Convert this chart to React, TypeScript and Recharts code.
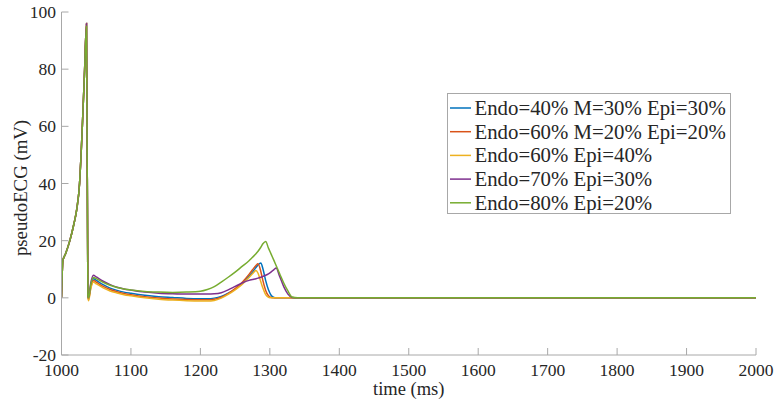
import React from "react";
import { LineChart, Line, XAxis, YAxis, Legend } from "recharts";

const time = [1000, 1002, 1006, 1012, 1018, 1022, 1026, 1028, 1030, 1033, 1036, 1038, 1039, 1042, 1046, 1050, 1060, 1070, 1080, 1090, 1100, 1120, 1140, 1160, 1180, 1200, 1210, 1220, 1230, 1240, 1250, 1260, 1270, 1275, 1280, 1283, 1287, 1290, 1294, 1298, 1302, 1306, 1309, 1314, 1320, 1326, 1332, 1340, 1400, 2000];

const endo40M30Epi30 = [0, 13, 15.5, 20, 26, 31, 40, 49, 60, 78, 96, 0.5, -0.3, 4, 6.7, 6.1, 4.6, 3.4, 2.6, 2.0, 1.6, 0.9, 0.4, 0.1, -0.2, -0.3, -0.3, -0.1, 0.5, 1.6, 3.0, 5.0, 7.6, 9.0, 10.6, 11.5, 12.2, 10.2, 6.0, 2.8, 0.8, 0.1, 0, 0, 0, 0, 0, 0, 0, 0];
const endo60M20Epi20 = [0, 13, 15.5, 20, 26, 31, 40, 49, 60, 78, 96, 0.5, -0.6, 3.5, 6.1, 5.5, 4.0, 2.9, 2.1, 1.5, 1.1, 0.4, -0.1, -0.4, -0.6, -0.7, -0.7, -0.5, 0.2, 1.5, 3.2, 5.4, 8.2, 9.8, 11.3, 11.9, 9.2, 6.0, 2.6, 0.7, 0.1, 0, 0, 0, 0, 0, 0, 0, 0, 0];
const endo60Epi40 = [0, 13, 15.5, 20, 26, 31, 40, 49, 60, 78, 96, 0.5, -1.0, 3, 5.5, 4.9, 3.5, 2.4, 1.7, 1.1, 0.7, 0.0, -0.5, -0.8, -1.0, -1.1, -1.1, -0.9, -0.1, 1.2, 2.8, 4.7, 7.1, 8.4, 9.6, 8.6, 5.6, 3.4, 1.1, 0.2, 0, 0, 0, 0, 0, 0, 0, 0, 0, 0];
const endo70Epi30 = [0, 13, 15.5, 20, 26, 31, 40, 49, 60, 78, 96, 0.5, 0, 5, 7.9, 7.3, 5.8, 4.6, 3.7, 3.1, 2.7, 2.0, 1.6, 1.4, 1.3, 1.3, 1.3, 1.4, 1.8, 2.8, 4.0, 5.2, 6.1, 6.4, 6.7, 6.9, 7.2, 7.5, 7.9, 8.4, 9.1, 9.9, 10.4, 7.6, 3.9, 1.3, 0.1, 0, 0, 0];
const endo80Epi20 = [0, 13, 15.5, 20, 26, 31, 40, 49, 60, 78, 95, 0.5, 0, 4.5, 7.1, 6.7, 5.4, 4.4, 3.6, 3.1, 2.7, 2.2, 2.0, 1.9, 2.0, 2.3, 2.9, 3.9, 5.5, 7.2, 9.0, 11.0, 13.0, 14.2, 15.4, 16.3, 17.7, 18.9, 19.7, 17.4, 15.2, 13.0, 11.3, 8.5, 5.2, 2.4, 0.3, 0, 0, 0];

const seriesNames = ["Endo=40% M=30% Epi=30%", "Endo=60% M=20% Epi=20%", "Endo=60% Epi=40%", "Endo=70% Epi=30%", "Endo=80% Epi=20%"];
const seriesColors = ["#0072BD", "#D95319", "#EDB120", "#7E2F8E", "#77AC30"];
const seriesValues = [endo40M30Epi30, endo60M20Epi20, endo60Epi40, endo70Epi30, endo80Epi20];

const xTicks = [1000, 1100, 1200, 1300, 1400, 1500, 1600, 1700, 1800, 1900, 2000];
const yTicks = [-20, 0, 20, 40, 60, 80, 100];

const data = time.map((t, i) => {
  const row: Record<string, number> = { t };
  seriesValues.forEach((vals, k) => {
    row["s" + k] = vals[i];
  });
  return row;
});

const W = 774;
const H = 400;
const PL = 61.5;
const PT = 12;
const PR = 756;
const PB = 355;
const AX = "#a8a8a8";
const TXT = "#262626";
const FONT = "Liberation Serif, Times New Roman, DejaVu Serif, serif";
const TL = 7;

const BottomTick = (props: any) => {
  const { x, payload } = props;
  return (
    <g>
      <line x1={x} x2={x} y1={PB} y2={PB - TL} stroke={AX} />
      <text x={x} y={376} textAnchor="middle" fontSize={17.5} fill={TXT} style={{ fontFamily: FONT }}>
        {payload.value}
      </text>
    </g>
  );
};
const TopTick = (props: any) => {
  const { x } = props;
  return <line x1={x} x2={x} y1={PT} y2={PT + TL} stroke={AX} />;
};
const LeftTick = (props: any) => {
  const { y, payload } = props;
  return (
    <g>
      <line x1={PL} x2={PL + TL} y1={y} y2={y} stroke={AX} />
      <text x={PL - 5.5} y={y + 6} textAnchor="end" fontSize={17.5} fill={TXT} style={{ fontFamily: FONT }}>
        {payload.value}
      </text>
    </g>
  );
};
const RightTick = (props: any) => {
  const { y } = props;
  return <line x1={PR} x2={PR - TL} y1={y} y2={y} stroke={AX} />;
};

const LegendBox = () => {
  const bw = 284;
  const bh = 121;
  return (
    <svg width={bw} height={bh} style={{ display: "block" }}>
      <rect x={0.5} y={0.5} width={bw - 1} height={bh - 1} fill="#ffffff" stroke={AX} />
      {seriesNames.map((name, i) => {
        const cy = 15 + i * 23.7;
        return (
          <g key={name}>
            <line x1={3} x2={24} y1={cy} y2={cy} stroke={seriesColors[i]} strokeWidth={1.5} />
            <text x={27.5} y={cy + 7} fontSize={20.8} fill={TXT} style={{ fontFamily: FONT }}>
              {name}
            </text>
          </g>
        );
      })}
    </svg>
  );
};

export default function App() {
  return (
    <div style={{ width: W, height: H, background: "#ffffff", position: "absolute", left: 0, top: 0 }}>
      <LineChart
        width={W}
        height={H}
        data={data}
        margin={{ top: PT, right: W - PR, bottom: 0, left: 0 }}
        style={{ overflow: "visible" }}
      >
        <XAxis
          dataKey="t"
          type="number"
          domain={[1000, 2000]}
          ticks={xTicks}
          interval={0}
          allowDataOverflow
          height={H - PB}
          axisLine={{ stroke: AX }}
          tickLine={false}
          tick={<BottomTick />}
        />
        <XAxis
          xAxisId="top"
          orientation="top"
          dataKey="t"
          type="number"
          domain={[1000, 2000]}
          ticks={xTicks}
          interval={0}
          allowDataOverflow
          height={0}
          axisLine={{ stroke: AX }}
          tickLine={false}
          tick={<TopTick />}
        />
        <YAxis
          type="number"
          domain={[-20, 100]}
          ticks={yTicks}
          interval={0}
          allowDataOverflow
          width={PL}
          axisLine={{ stroke: AX }}
          tickLine={false}
          tick={<LeftTick />}
          label={{
            value: "pseudoECG (mV)",
            position: "insideLeft",
            content: () => (
              <text
                x={27}
                y={188}
                transform="rotate(-90 27 188)"
                textAnchor="middle"
                fontSize={18.8}
                fill={TXT}
                style={{ fontFamily: FONT }}
              >
                pseudoECG (mV)
              </text>
            ),
          }}
        />
        <YAxis
          yAxisId="right"
          orientation="right"
          type="number"
          domain={[-20, 100]}
          ticks={yTicks}
          interval={0}
          allowDataOverflow
          width={0}
          axisLine={{ stroke: AX }}
          tickLine={false}
          tick={<RightTick />}
        />
        {seriesNames.map((name, k) => (
          <Line
            key={name}
            dataKey={"s" + k}
            name={name}
            type="monotone"
            stroke={seriesColors[k]}
            strokeWidth={1.5}
            dot={false}
            activeDot={false}
            isAnimationActive={false}
          />
        ))}
        <Legend
          layout="vertical"
          verticalAlign="middle"
          align="center"
          content={() => <LegendBox />}
          wrapperStyle={{ left: 447, top: 93, width: 284, height: 121, margin: 0, padding: 0 }}
        />
      </LineChart>
      <svg width={W} height={H} style={{ position: "absolute", left: 0, top: 0, pointerEvents: "none" }}>
        <text x={(PL + PR) / 2} y={395} textAnchor="middle" fontSize={18.5} fill={TXT} style={{ fontFamily: FONT }}>
          time (ms)
        </text>
      </svg>
    </div>
  );
}
